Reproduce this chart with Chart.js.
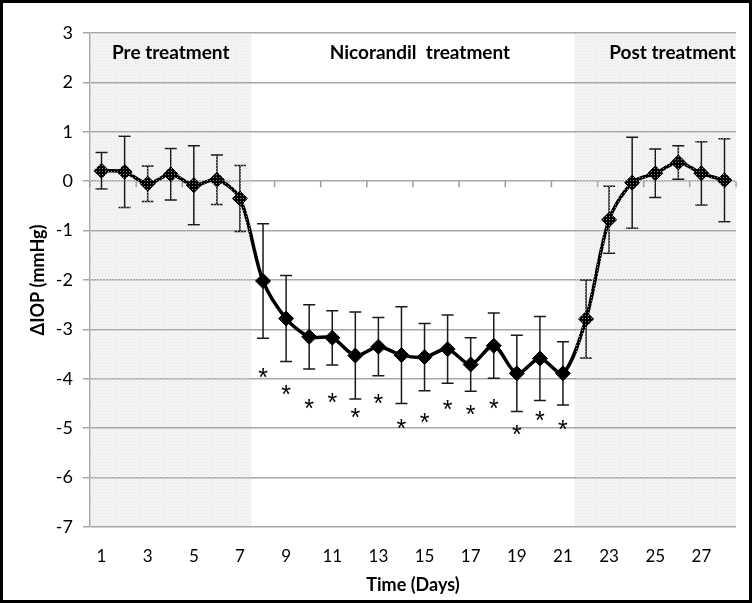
<!DOCTYPE html>
<html><head><meta charset="utf-8">
<script src="https://cdn.jsdelivr.net/npm/chart.js@4/dist/chart.umd.min.js"></script>
<style>html,body{margin:0;padding:0;background:#fff}#wrap{width:752px;height:603px;position:relative}</style>
</head><body><div id="wrap"><canvas id="c" width="752" height="603"></canvas></div>
<script>
// ---- data ----
const days = [1,2,3,4,5,6,7,8,9,10,11,12,13,14,15,16,17,18,19,20,21,22,23,24,25,26,27,28];
const meanIOP = [0.21,0.19,-0.05,0.14,-0.08,0.03,-0.35,-2.02,-2.78,-3.15,-3.17,-3.53,-3.35,-3.52,-3.56,-3.40,-3.71,-3.33,-3.89,-3.59,-3.89,-2.79,-0.78,-0.03,0.16,0.38,0.16,0.02];
const sdIOP = [0.37,0.72,0.36,0.52,0.80,0.50,0.67,1.16,0.87,0.65,0.55,0.88,0.59,0.98,0.68,0.69,0.54,0.66,0.77,0.85,0.64,0.79,0.68,0.92,0.49,0.34,0.64,0.84];
const starDays = [8,9,10,11,12,13,14,15,16,17,18,19,20,21];
const starY = [-3.89,-4.22,-4.52,-4.38,-4.70,-4.40,-4.92,-4.80,-4.54,-4.64,-4.52,-5.04,-4.76,-4.94];
const phaseNames = ['Pre treatment','Nicorandil  treatment','Post treatment'];
const phaseNameDay = [4, 14.8, 25.75];
const shadedFrom = [1, 22];
const shadedTo = [7, 28];
const yMin = -7, yMax = 3, yStep = 1;

const FONT = "Lato, 'Open Sans', sans-serif";

function makePattern(base, dot, alpha){
  const p = document.createElement('canvas'); p.width = 3; p.height = 3;
  const g = p.getContext('2d');
  if (base){ g.fillStyle = base; g.fillRect(0,0,3,3); }
  g.globalAlpha = alpha; g.fillStyle = dot; g.fillRect(0,0,1,1);
  return p;
}
const bgPat = makePattern('#f3f3f3', '#c8c8c8', 1);
const ovPat = makePattern(null, '#ffffff', 0.55);

function shadedRects(chart){
  const a = chart.chartArea, x = chart.scales.x;
  const half = (x.getPixelForValue(1) - x.getPixelForValue(0)) / 2;
  return shadedFrom.map((s,i) => {
    const l = Math.max(a.left, x.getPixelForValue(s-1) - half);
    const r = Math.min(a.right, x.getPixelForValue(shadedTo[i]-1) + half);
    return [l, a.top, r - l, a.bottom - a.top];
  });
}

const decor = {
  id: 'decor',
  beforeDraw(chart){
    const ctx = chart.ctx;
    ctx.save();
    ctx.fillStyle = ctx.createPattern(bgPat, 'repeat');
    shadedRects(chart).forEach(r => ctx.fillRect(...r));
    ctx.restore();
  },
  beforeDatasetsDraw(chart){
    const {ctx, scales:{x, y}} = chart;
    const half = (x.getPixelForValue(1) - x.getPixelForValue(0)) / 2;
    const y0 = y.getPixelForValue(0);
    ctx.save();
    ctx.strokeStyle = '#9a9a9a'; ctx.lineWidth = 1.5;
    for (let i = 0; i <= days.length; i += 2){
      const px = x.getPixelForValue(i) - half;
      ctx.beginPath(); ctx.moveTo(px, y0); ctx.lineTo(px, y0 + 6); ctx.stroke();
    }
    ctx.strokeStyle = '#1a1a1a'; ctx.lineWidth = 1.5;
    meanIOP.forEach((m,i) => {
      const px = x.getPixelForValue(i);
      const top = y.getPixelForValue(m + sdIOP[i]);
      const bot = y.getPixelForValue(m - sdIOP[i]);
      ctx.beginPath();
      ctx.moveTo(px, top); ctx.lineTo(px, bot);
      ctx.moveTo(px - 6, top); ctx.lineTo(px + 6, top);
      ctx.moveTo(px - 6, bot); ctx.lineTo(px + 6, bot);
      ctx.stroke();
    });
    ctx.restore();
  },
  afterDatasetsDraw(chart){
    const {ctx, scales:{x, y}, chartArea:a} = chart;
    ctx.save();
    ctx.fillStyle = ctx.createPattern(ovPat, 'repeat');
    shadedRects(chart).forEach(r => ctx.fillRect(...r));
    ctx.fillStyle = '#000';
    ctx.font = "25px 'Liberation Sans', sans-serif";
    ctx.textAlign = 'center'; ctx.textBaseline = 'alphabetic';
    const m = ctx.measureText('*');
    const off = (m.actualBoundingBoxAscent - m.actualBoundingBoxDescent) / 2;
    starDays.forEach((d,i) => {
      ctx.fillText('*', x.getPixelForValue(d-1), y.getPixelForValue(starY[i]) + off);
    });
    ctx.font = "bold 19px " + FONT;
    ctx.textBaseline = 'middle';
    phaseNames.forEach((t,i) => {
      ctx.fillText(t, x.getPixelForValue(phaseNameDay[i]-1), a.top + 20);
    });
    ctx.restore();
  },
  afterDraw(chart){
    const ctx = chart.ctx;
    ctx.save();
    ctx.strokeStyle = '#000'; ctx.lineWidth = 3;
    ctx.strokeRect(1.5, 1.5, chart.width - 3, chart.height - 3);
    ctx.restore();
  }
};

new Chart(document.getElementById('c'), {
  type: 'line',
  data: {
    labels: days,
    datasets: [{
      data: meanIOP,
      borderColor: '#000',
      backgroundColor: '#000',
      borderWidth: 3.5,
      tension: 0.3,
      pointStyle: 'rectRot',
      pointRadius: 7.5,
      pointBorderWidth: 1,
      pointBackgroundColor: '#000',
      pointBorderColor: '#000',
      fill: false
    }]
  },
  options: {
    responsive: false,
    animation: false,
    devicePixelRatio: 1,
    layout: { padding: { top: 33, right: 16, left: 0, bottom: 0 } },
    plugins: { legend: { display: false }, tooltip: { enabled: false } },
    scales: {
      x: {
        type: 'category',
        offset: true,
        grid: { display: false, drawTicks: false },
        border: { display: false },
        ticks: {
          autoSkip: false, maxRotation: 0, minRotation: 0, padding: 19,
          color: '#000', font: { family: FONT, size: 17 },
          callback: (v, i) => (i % 2 === 0 ? String(days[i]) : '')
        },
        title: { display: true, text: 'Time (Days)', color: '#000',
                 font: { family: FONT, size: 18, weight: 'bold' }, padding: { top: 0, bottom: 7 } },
        afterFit(s){ s.height = 76; }
      },
      y: {
        min: yMin, max: yMax,
        ticks: { stepSize: yStep, padding: 10, color: '#000', font: { family: FONT, size: 18 } },
        grid: { color: '#a8a8a8', lineWidth: 1.5, tickLength: 7 },
        border: { color: '#a8a8a8', width: 1.5 },
        title: { display: true, text: 'ΔIOP (mmHg)', color: '#000',
                 font: { family: FONT, size: 18, weight: 'bold' }, padding: { top: 27, bottom: 0 } },
        afterFit(s){ s.width = 90; }
      }
    }
  },
  plugins: [decor]
});
</script>
</body></html>
